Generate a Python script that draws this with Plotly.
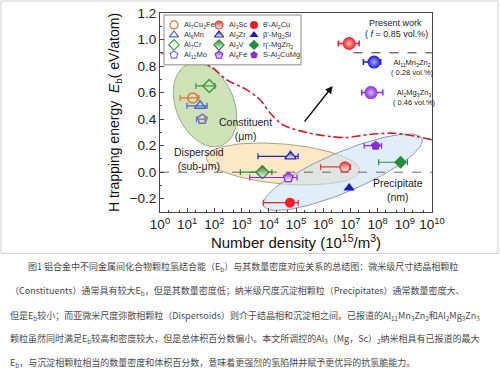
import numpy as np
import plotly.graph_objects as go

# ---------------- data ----------------
const_names = ["Al<sub>7</sub>Cu<sub>2</sub>Fe", "Al<sub>6</sub>Mn", "Al<sub>7</sub>Cr", "Al<sub>12</sub>Mo"]
const_x = [16, 30, 65, 36]
const_y = [0.56, 0.50, 0.65, 0.40]
const_xlo = [5.5, 9.8, 21, 22]
const_xhi = [27, 54, 105, 45]

disp_names = ["Al<sub>3</sub>Sc", "Al<sub>3</sub>Zr", "Al<sub>3</sub>V", "Al<sub>6</sub>Fe"]
disp_x = [6.3e6, 6.3e4, 5.8e3, 5.2e4]
disp_y = [0.04, 0.12, 0.0, -0.04]
disp_xlo = [8.0e5, 4.0e3, 9.0e2, 2.0e3]
disp_xhi = [1.0e7, 1.2e5, 1.3e4, 1.1e5]

prec_names = ["θ'-Al<sub>2</sub>Cu", "β'-Mg<sub>2</sub>Si", "η'-MgZn<sub>2</sub>", "S-Al<sub>2</sub>CuMg"]
prec_x = [6.0e4, 9.0e6, 7.0e8, 8.5e7]
prec_y = [-0.23, -0.12, 0.075, 0.20]
prec_xlo = [6.3e3, 9.0e6, 1.1e8, 3.2e7]
prec_xhi = [1.2e5, 9.0e6, 1.25e9, 1.4e8]

sphere_names = ["Al<sub>3</sub>(Mg,Sc)<sub>2</sub>", "Al<sub>11</sub>Mn<sub>3</sub>Zn<sub>2</sub>", "Al<sub>2</sub>Mg<sub>3</sub>Zn<sub>3</sub>"]
sphere_x = [9.0e6, 7.4e7, 5.7e7]
sphere_y = [0.97, 0.83, 0.60]
sphere_xlo = [3.6e6, 3.0e7, 2.6e7]
sphere_xhi = [2.1e7, 1.3e8, 1.55e8]
sphere_vol = ["( <i>f</i> = 0.85 vol.%)", "( 0.28 vol.%)", "( 0.46 vol.%)"]

# boundary (red dash-dot) curve
bound_x = [1.1, 16, 76, 280, 1550, 4800, 11000, 33000, 2.5e5, 1.8e6, 7.2e6, 4.0e7, 3.7e8, 2.8e9, 1.0e10]
bound_y = [0.90, 0.847, 0.795, 0.697, 0.621, 0.546, 0.448, 0.357, 0.299, 0.269, 0.261, 0.282, 0.294, 0.269, 0.244]

x_tick_vals = [10 ** k for k in range(11)]
x_tick_text = ["10<sup>%d</sup>" % k for k in range(11)]

caption_lines = [
    "图1 铝合金中不同金属间化合物颗粒氢结合能（E<sub>b</sub>）与其数量密度对应关系的总结图：微米级尺寸结晶相颗粒",
    "（Constituents）通常具有较大E<sub>b</sub>，但是其数量密度低；纳米级尺度沉淀相颗粒（Precipitates）通常数量密度大、",
    "但是E<sub>b</sub>较小；而亚微米尺度弥散相颗粒（Dispersoids）则介于结晶相和沉淀相之间。已报道的Al<sub>11</sub>Mn<sub>3</sub>Zn<sub>2</sub>和Al<sub>2</sub>Mg<sub>3</sub>Zn<sub>3</sub>",
    "颗粒虽然同时满足E<sub>b</sub>较高和密度较大，但是总体积百分数偏小。本文所调控的Al<sub>3</sub>（Mg，Sc）<sub>2</sub>纳米相具有已报道的最大",
    "E<sub>b</sub>，与沉淀相颗粒相当的数量密度和体积百分数，意味着更强烈的氢陷阱并赋予更优异的抗氢脆能力。",
]

# ---------------- layout geometry ----------------
W, H = 500, 377
L, R, T, B = 160, 432, 13, 212.5
XR = [0, 10]
YR = [-0.3, 1.2]
ppd = (R - L) / (XR[1] - XR[0])
ppu = (B - T) / (YR[1] - YR[0])


def fx(px):
    return (px - L) / (R - L)


def fy(py):
    return (B - py) / (B - T)


def lx(px):
    return (px - L) / ppd + XR[0]


def ly(py):
    return (B - py) / ppu + YR[0]


def ellipse(logxc, yc, a, b, ang):
    t = np.linspace(0, 2 * np.pi, 120)
    th = np.deg2rad(ang)
    uc, vc = logxc * ppd, yc * ppu
    u = uc + a * np.cos(t) * np.cos(th) - b * np.sin(t) * np.sin(th)
    v = vc + a * np.cos(t) * np.sin(th) + b * np.sin(t) * np.cos(th)
    return 10 ** (u / ppd), v / ppu


FONT = "Arial, Liberation Sans, sans-serif"
c_const = ["#e2703c", "#4d62cf", "#3f9a3f", "#7f6cb8"]
c_disp = ["#e53935", "#2424b0", "#2a8a2a", "#8a2be2"]
c_prec = ["#ee1c24", "#1a1ad0", "#1f8f3a", "#8a2be2"]
c_sph = ["#ee1c24", "#1c1cd8", "#8a2be2"]
c_sph_hi = ["#ffb4b4", "#a8a8ff", "#dcb4ff"]

fig = go.Figure()

# ellipses
ells = [
    (1.654, 0.508, 44, 29, 113, "rgba(196,222,170,0.85)", "#9aa98a"),
    (4.52, 0.062, 77, 20, -5, "rgba(251,224,178,0.75)", "#a8a08e"),
    (6.72, 0.0, 86, 20, 23, "rgba(205,226,244,0.6)", "#8d9aa8"),
]
for elx, yc, a, b, ang, fc, lc in ells:
    ex, ey = ellipse(elx, yc, a, b, ang)
    fig.add_trace(go.Scatter(x=ex, y=ey, mode="lines", fill="toself", fillcolor=fc,
                             line=dict(color=lc, width=1), hoverinfo="skip", showlegend=False))

# reference dashed lines
fig.add_trace(go.Scatter(x=[1, 1e10], y=[0, 0], mode="lines",
                         line=dict(color="#666666", width=1, dash="dash"), showlegend=False))
fig.add_trace(go.Scatter(x=[1.3e7, 1e10], y=[0.9, 0.9], mode="lines",
                         line=dict(color="#333333", width=1, dash="dash"), showlegend=False))

# boundary curve
fig.add_trace(go.Scatter(x=bound_x, y=bound_y, mode="lines",
                         line=dict(color="#c8202c", width=1.6, dash="dashdot", shape="spline", smoothing=0.8),
                         showlegend=False))


def err(x, lo, hi):
    return dict(type="data", symmetric=False,
                array=[h - v for v, h in zip(x, hi)],
                arrayminus=[v - l for v, l in zip(x, lo)])


open_syms = ["circle-open", "triangle-up-open", "diamond-open", "pentagon-open"]
full_syms = ["circle", "triangle-up", "diamond", "pentagon"]

for i in range(4):
    e = err([const_x[i]], [const_xlo[i]], [const_xhi[i]])
    e.update(color=c_const[i], thickness=1.2, width=3)
    fig.add_trace(go.Scatter(x=[const_x[i]], y=[const_y[i]], mode="markers", name=const_names[i],
                             marker=dict(symbol=open_syms[i], size=10, color=c_const[i],
                                         line=dict(width=1.5, color=c_const[i])),
                             error_x=e, showlegend=False))
for i in range(4):
    e = err([disp_x[i]], [disp_xlo[i]], [disp_xhi[i]])
    e.update(color=c_disp[i], thickness=1.2, width=3)
    fig.add_trace(go.Scatter(x=[disp_x[i]], y=[disp_y[i]], mode="markers", name=disp_names[i],
                             marker=dict(symbol=full_syms[i], size=10, color=c_disp[i],
                                         gradient=dict(type="vertical", color="white"),
                                         line=dict(width=1.3, color=c_disp[i])),
                             error_x=e, showlegend=False))
for i in range(4):
    e = err([prec_x[i]], [prec_xlo[i]], [prec_xhi[i]])
    e.update(color=c_prec[i], thickness=1.2, width=3, visible=prec_xlo[i] != prec_xhi[i])
    fig.add_trace(go.Scatter(x=[prec_x[i]], y=[prec_y[i]], mode="markers", name=prec_names[i],
                             marker=dict(symbol=full_syms[i], size=10, color=c_prec[i],
                                         line=dict(width=0)),
                             error_x=e, showlegend=False))
for i in range(3):
    e = err([sphere_x[i]], [sphere_xlo[i]], [sphere_xhi[i]])
    e.update(color=c_sph[i], thickness=1.5, width=3)
    fig.add_trace(go.Scatter(x=[sphere_x[i]], y=[sphere_y[i]], mode="markers", name=sphere_names[i],
                             marker=dict(symbol="circle", size=13, color=c_sph[i],
                                         gradient=dict(type="radial", color=c_sph_hi[i]),
                                         line=dict(width=0)),
                             error_x=e, showlegend=False))

# ---------------- custom legend (overlay axes with range 0..1 = plot domain) ----------------
box_l, box_r, box_t, box_b = 164, 301, 15, 65
fig.add_trace(go.Scatter(x=[fx(box_l), fx(box_r), fx(box_r), fx(box_l), fx(box_l)],
                         y=[fy(box_b), fy(box_b), fy(box_t), fy(box_t), fy(box_b)],
                         mode="lines", fill="toself", fillcolor="white",
                         line=dict(color="#888888", width=1),
                         xaxis="x2", yaxis="y2", showlegend=False, hoverinfo="skip"))

leg_rows_py = [25, 35, 45, 55]
leg_cols = [(174, 182), (219, 227), (254, 261)]
groups = [
    (const_names, c_const, "open"),
    (disp_names, c_disp, "half"),
    (prec_names, c_prec, "full"),
]
annotations = []
for ci, (names, cols, kind) in enumerate(groups):
    mx, tx = leg_cols[ci]
    for ri in range(4):
        mk = dict(size=8, color=cols[ri])
        if kind == "open":
            mk.update(symbol=open_syms[ri], line=dict(width=1.2, color=cols[ri]))
        elif kind == "half":
            mk.update(symbol=full_syms[ri], gradient=dict(type="vertical", color="white"),
                      line=dict(width=1.1, color=cols[ri]))
        else:
            mk.update(symbol=full_syms[ri], line=dict(width=0))
        fig.add_trace(go.Scatter(x=[fx(mx)], y=[fy(leg_rows_py[ri])], mode="markers", marker=mk,
                                 xaxis="x2", yaxis="y2", showlegend=False, hoverinfo="skip"))
        annotations.append(dict(text=names[ri], x=fx(tx), y=fy(leg_rows_py[ri]), xref="x domain",
                                yref="y domain", xanchor="left", yanchor="middle", showarrow=False,
                                font=dict(size=7.5, color="#333333", family=FONT)))

shapes = [
    dict(type="rect", xref="paper", yref="paper", x0=fx(1), x1=fx(498), y0=fy(254), y1=fy(1),
         line=dict(color="#d0d0d0", width=1), layer="below"),
]

# region labels
lab_font = dict(size=10.5, color="#222222", family=FONT)
annotations += [
    dict(text="Constituent<br>(μm)", x=lx(245), y=ly(129),
         xref="x", yref="y", showarrow=False, font=lab_font, align="center"),
    dict(text="Dispersoid<br>(sub-μm)", x=lx(199), y=ly(159),
         xref="x", yref="y", showarrow=False, font=lab_font, align="center"),
    dict(text="Precipitate<br>(nm)", x=lx(398), y=ly(190),
         xref="x", yref="y", showarrow=False, font=lab_font, align="center"),
    dict(text="Present work", x=lx(395), y=ly(22.7),
         xref="x", yref="y", showarrow=False, font=dict(size=9, color="#222222", family=FONT)),
    dict(text=sphere_vol[0], x=lx(396), y=ly(34),
         xref="x", yref="y", showarrow=False, font=dict(size=9, color="#222222", family=FONT)),
]
for i in (1, 2):
    annotations.append(dict(text=sphere_names[i] + "<br>" + sphere_vol[i],
                            x=np.log10(sphere_xhi[i]) + 0.3, y=sphere_y[i] - 0.04,
                            xref="x", yref="y", xanchor="left", showarrow=False, align="center",
                            font=dict(size=7.5, color="#222222", family=FONT)))

# arrow
annotations.append(dict(x=6.35, y=0.65, ax=5.27, ay=0.37, xref="x", yref="y", axref="x", ayref="y",
                        showarrow=True, arrowhead=2, arrowsize=1, arrowwidth=1.5, arrowcolor="#111111",
                        text=""))

# caption
cap_py = [268, 292, 317, 340, 364]
cap_px = [26, 8, 8, 8, 8]
for ln, py, px in zip(caption_lines, cap_py, cap_px):
    annotations.append(dict(text=ln, x=fx(px), y=fy(py), xref="paper", yref="paper",
                            xanchor="left", yanchor="middle", showarrow=False,
                            font=dict(size=9, color="#4a4a4a", family="Noto Sans CJK SC")))

fig.update_layout(
    template="none",
    width=W, height=H,
    margin=dict(l=L, r=W - R, t=T, b=H - B, autoexpand=False),
    paper_bgcolor="white", plot_bgcolor="white",
    font=dict(family=FONT, color="#222222"),
    showlegend=False,
    xaxis=dict(type="log", range=XR, showgrid=False, zeroline=False, automargin=False,
               showline=True, linecolor="#444444", linewidth=1, mirror=True,
               ticks="inside", ticklen=4, tickcolor="#444444",
               tickvals=x_tick_vals, ticktext=x_tick_text,
               tickfont=dict(size=13.5, color="#222222"),
               minor=dict(ticks="inside", ticklen=2, tickcolor="#444444", showgrid=False),
               title=dict(text="Number density (10<sup>15</sup>/m<sup>3</sup>)",
                          font=dict(size=15, color="#111111"), standoff=4)),
    yaxis=dict(range=YR, dtick=0.2, tick0=0, tickformat=".1f", showgrid=False, zeroline=False,
               automargin=False,
               showline=True, linecolor="#444444", linewidth=1, mirror=True,
               ticks="inside", ticklen=4, tickcolor="#444444",
               tickfont=dict(size=13.5, color="#222222"),
               minor=dict(ticks="inside", ticklen=2, dtick=0.1, tickcolor="#444444", showgrid=False),
               title=dict(text="H trapping energy  <i>E</i><sub>b</sub>( eV/atom)",
                          font=dict(size=14, color="#111111"), standoff=6)),
    xaxis2=dict(overlaying="x", range=[0, 1], visible=False, fixedrange=True, automargin=False),
    yaxis2=dict(overlaying="y", range=[0, 1], visible=False, fixedrange=True, automargin=False),
    annotations=annotations,
    shapes=shapes,
)

fig.write_html("out.html", config={"displayModeBar": False},
               post_script="document.body.style.margin='0';document.body.style.padding='0';")
